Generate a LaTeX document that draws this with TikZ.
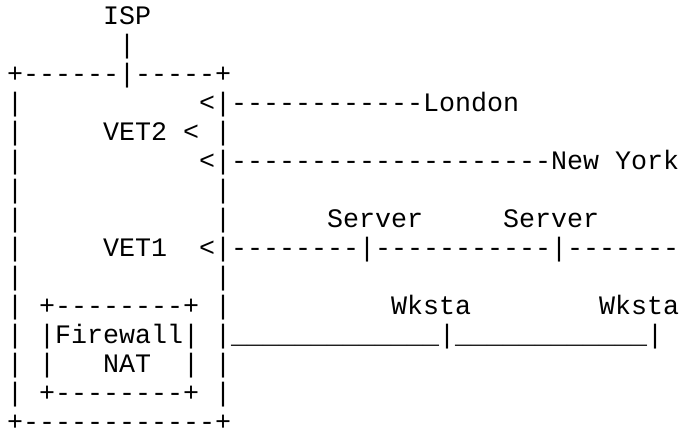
\documentclass[tikz,border=0pt]{standalone}
\usepackage{fontspec}
\setmonofont{Liberation Mono}
\tikzset{ascii/.style={anchor=base west,inner sep=0pt,outer sep=0pt,font=\ttfamily\fontsize{26.667pt}{29pt}\selectfont,text=black}}
\newcommand\asc[4]{\node[ascii] (#1) at ({7+16*#2},{-24.5-29*#3}) {#4};}
\begin{document}
\begin{tikzpicture}[x=1pt,y=1pt]
\useasboundingbox (0,0) rectangle (681,-434);
\asc{isp}{6}{0}{ISP}
\asc{ispbar}{7}{1}{|}
\asc{top}{0}{2}{+------|-----+}
\asc{l3a}{0}{3}{|}
\asc{london}{12}{3}{<|------------London}
\asc{l4a}{0}{4}{|}
\asc{vet2}{6}{4}{VET2}
\asc{vet2lt}{11}{4}{<}
\asc{l4b}{13}{4}{|}
\asc{l5a}{0}{5}{|}
\asc{newyork}{12}{5}{<|--------------------New York}
\asc{l6a}{0}{6}{|}
\asc{l6b}{13}{6}{|}
\asc{l7a}{0}{7}{|}
\asc{l7b}{13}{7}{|}
\asc{serverA}{20}{7}{Server}
\asc{serverB}{31}{7}{Server}
\asc{l8a}{0}{8}{|}
\asc{vet1}{6}{8}{VET1}
\asc{lan}{12}{8}{<|--------|-----------|-------}
\asc{l9a}{0}{9}{|}
\asc{l9b}{13}{9}{|}
\asc{l10a}{0}{10}{|}
\asc{fwtop}{2}{10}{+--------+}
\asc{l10b}{13}{10}{|}
\asc{wkstaA}{24}{10}{Wksta}
\asc{wkstaB}{37}{10}{Wksta}
\asc{l11a}{0}{11}{|}
\asc{firewall}{2}{11}{|Firewall|}
\asc{wlan}{13}{11}{|\_\_\_\_\_\_\_\_\_\_\_\_\_|\_\_\_\_\_\_\_\_\_\_\_\_|}
\asc{l12a}{0}{12}{|}
\asc{l12b}{2}{12}{|}
\asc{nat}{6}{12}{NAT}
\asc{l12c}{11}{12}{|}
\asc{l12d}{13}{12}{|}
\asc{l13a}{0}{13}{|}
\asc{fwbot}{2}{13}{+--------+}
\asc{l13b}{13}{13}{|}
\node[ascii,text depth=0pt] (bottom) at ({7},{-24.5-29*14}) {+------------+};
\end{tikzpicture}
\end{document}
